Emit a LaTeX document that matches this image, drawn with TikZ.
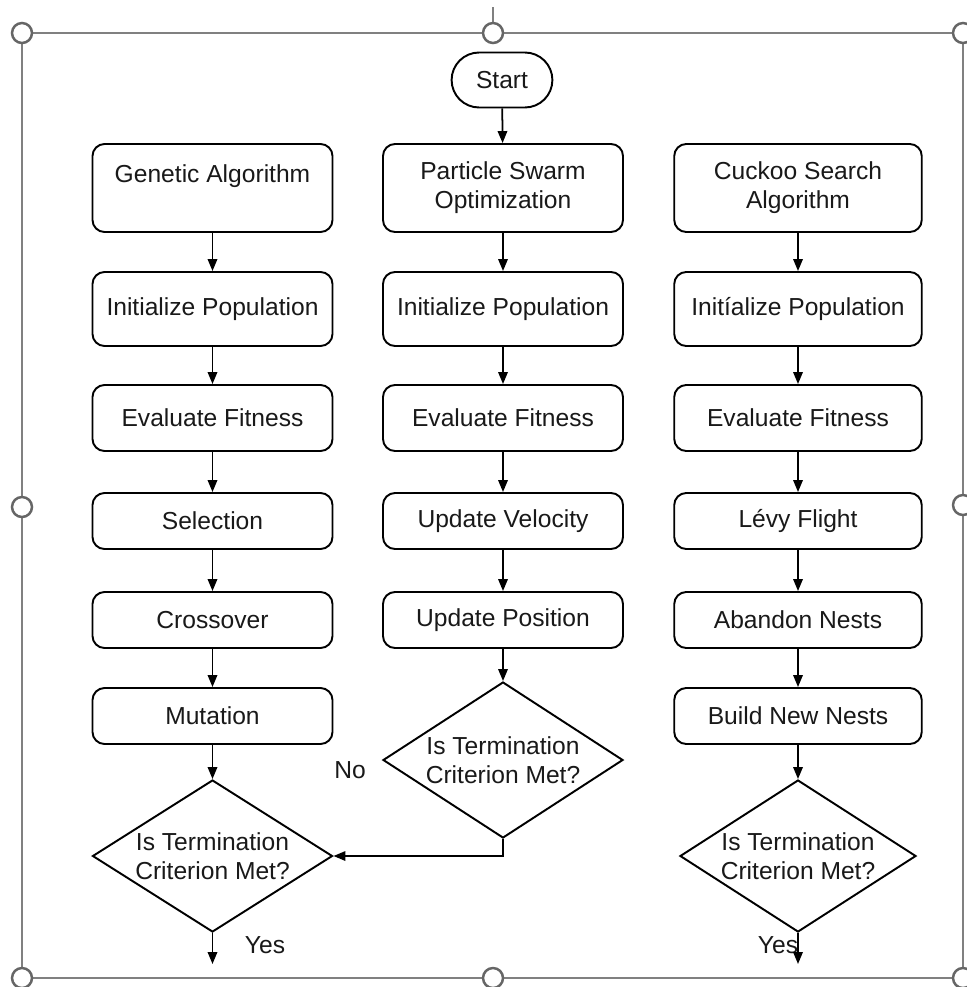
\documentclass[tikz,border=0pt]{standalone}
\usepackage{fontspec}
\setmainfont{Liberation Sans}
\usetikzlibrary{shapes.geometric,shapes.misc,arrows.meta}

\begin{document}
\begin{tikzpicture}[every node/.style={font=\fontsize{14}{16.5}\selectfont,text=black!90},
  box/.style={draw,line width=1.1pt,rounded corners=0.24cm,minimum width=4.8cm,minimum height=1.12cm,align=center,inner sep=2pt},
  startbox/.style={draw,line width=1.1pt,rounded rectangle,minimum width=2.25cm,minimum height=1.1cm},
  dec/.style={draw,line width=1.1pt,diamond,aspect=1.58,minimum width=4.8cm,minimum height=3.04cm,inner sep=0pt,align=center},
  arr/.style={line width=1pt,-{Triangle[length=2.4mm,width=1.9mm]}},
  handle/.style={draw=black!60,fill=white,line width=1.4pt}]
% selection frame round the picture
\clip (0,0) rectangle (19.34,-19.74);
\fill[white] (0,0) rectangle (19.34,-19.74);
\draw[black!50,line width=0.7pt] (0.44,-0.66) rectangle (19.26,-19.56);
\draw[black!50,line width=0.7pt] (9.86,-0.66) -- (9.86,-0.14);
\foreach \hx/\hy in {0.44/-0.66,9.86/-0.66,19.26/-0.66,0.44/-10.14,19.26/-10.1,0.44/-19.56,9.86/-19.56,19.26/-19.56}
  {\draw[handle] (\hx,\hy) circle (0.2);}

% start
\node[startbox] (start) at (10.04,-1.6) {Start};

% genetic algorithm
\node[box,minimum height=1.76cm] (ga) at (4.25,-3.76) {Genetic Algorithm\\\mbox{}};
\node[box,minimum height=1.48cm] (gainit) at (4.25,-6.18) {Initialize Population};
\node[box,minimum height=1.32cm] (gaeval) at (4.25,-8.36) {Evaluate Fitness};
\node[box] (gasel) at (4.25,-10.42) {Selection};
\node[box] (gacross) at (4.25,-12.4) {Crossover};
\node[box] (gamut) at (4.25,-14.32) {Mutation};
\node[dec] (gadec) at (4.25,-17.12) {Is Termination\\Criterion Met?};
\coordinate (gaend) at (4.25,-19.28);
\node (gayes) at (5.3,-18.9) {Yes};

% particle swarm
\node[box,minimum height=1.76cm] (pso) at (10.06,-3.76) {Particle Swarm\\Optimization};
\node[box,minimum height=1.48cm] (psoinit) at (10.06,-6.18) {Initialize Population};
\node[box,minimum height=1.32cm] (psoeval) at (10.06,-8.36) {Evaluate Fitness};
\node[box] (psovel) at (10.06,-10.42) {Update Velocity};
\node[box] (psopos) at (10.06,-12.4) {Update Position};
\node[dec,minimum height=3.12cm] (psodec) at (10.06,-15.2) {Is Termination\\Criterion Met?};
\node (psono) at (7.0,-15.4) {No};

% cuckoo search
\node[box,minimum height=1.76cm,minimum width=4.95cm] (cs) at (15.96,-3.76) {Cuckoo Search\\Algorithm};
\node[box,minimum height=1.48cm,minimum width=4.95cm] (csinit) at (15.96,-6.18) {Initíalize Population};
\node[box,minimum height=1.32cm,minimum width=4.95cm] (cseval) at (15.96,-8.36) {Evaluate Fitness};
\node[box,minimum width=4.95cm] (cslevy) at (15.96,-10.42) {Lévy Flight};
\node[box,minimum width=4.95cm] (csaban) at (15.96,-12.4) {Abandon Nests};
\node[box,minimum width=4.95cm] (csbuild) at (15.96,-14.32) {Build New Nests};
\node[dec,minimum width=4.72cm] (csdec) at (15.96,-17.12) {Is Termination\\Criterion Met?};
\coordinate (csend) at (15.96,-19.28);
\node (csyes) at (15.56,-18.9) {Yes};

% arrows
\foreach \a/\b in {start/pso,ga/gainit,gainit/gaeval,gaeval/gasel,gasel/gacross,gacross/gamut,gamut/gadec,gadec/gaend,
  pso/psoinit,psoinit/psoeval,psoeval/psovel,psovel/psopos,psopos/psodec,
  cs/csinit,csinit/cseval,cseval/cslevy,cslevy/csaban,csaban/csbuild,csbuild/csdec,csdec/csend}
  {\draw[arr] (\a) -- (\b);}
\draw[arr] (psodec.south) |- (gadec.east);
\end{tikzpicture}
\end{document}
